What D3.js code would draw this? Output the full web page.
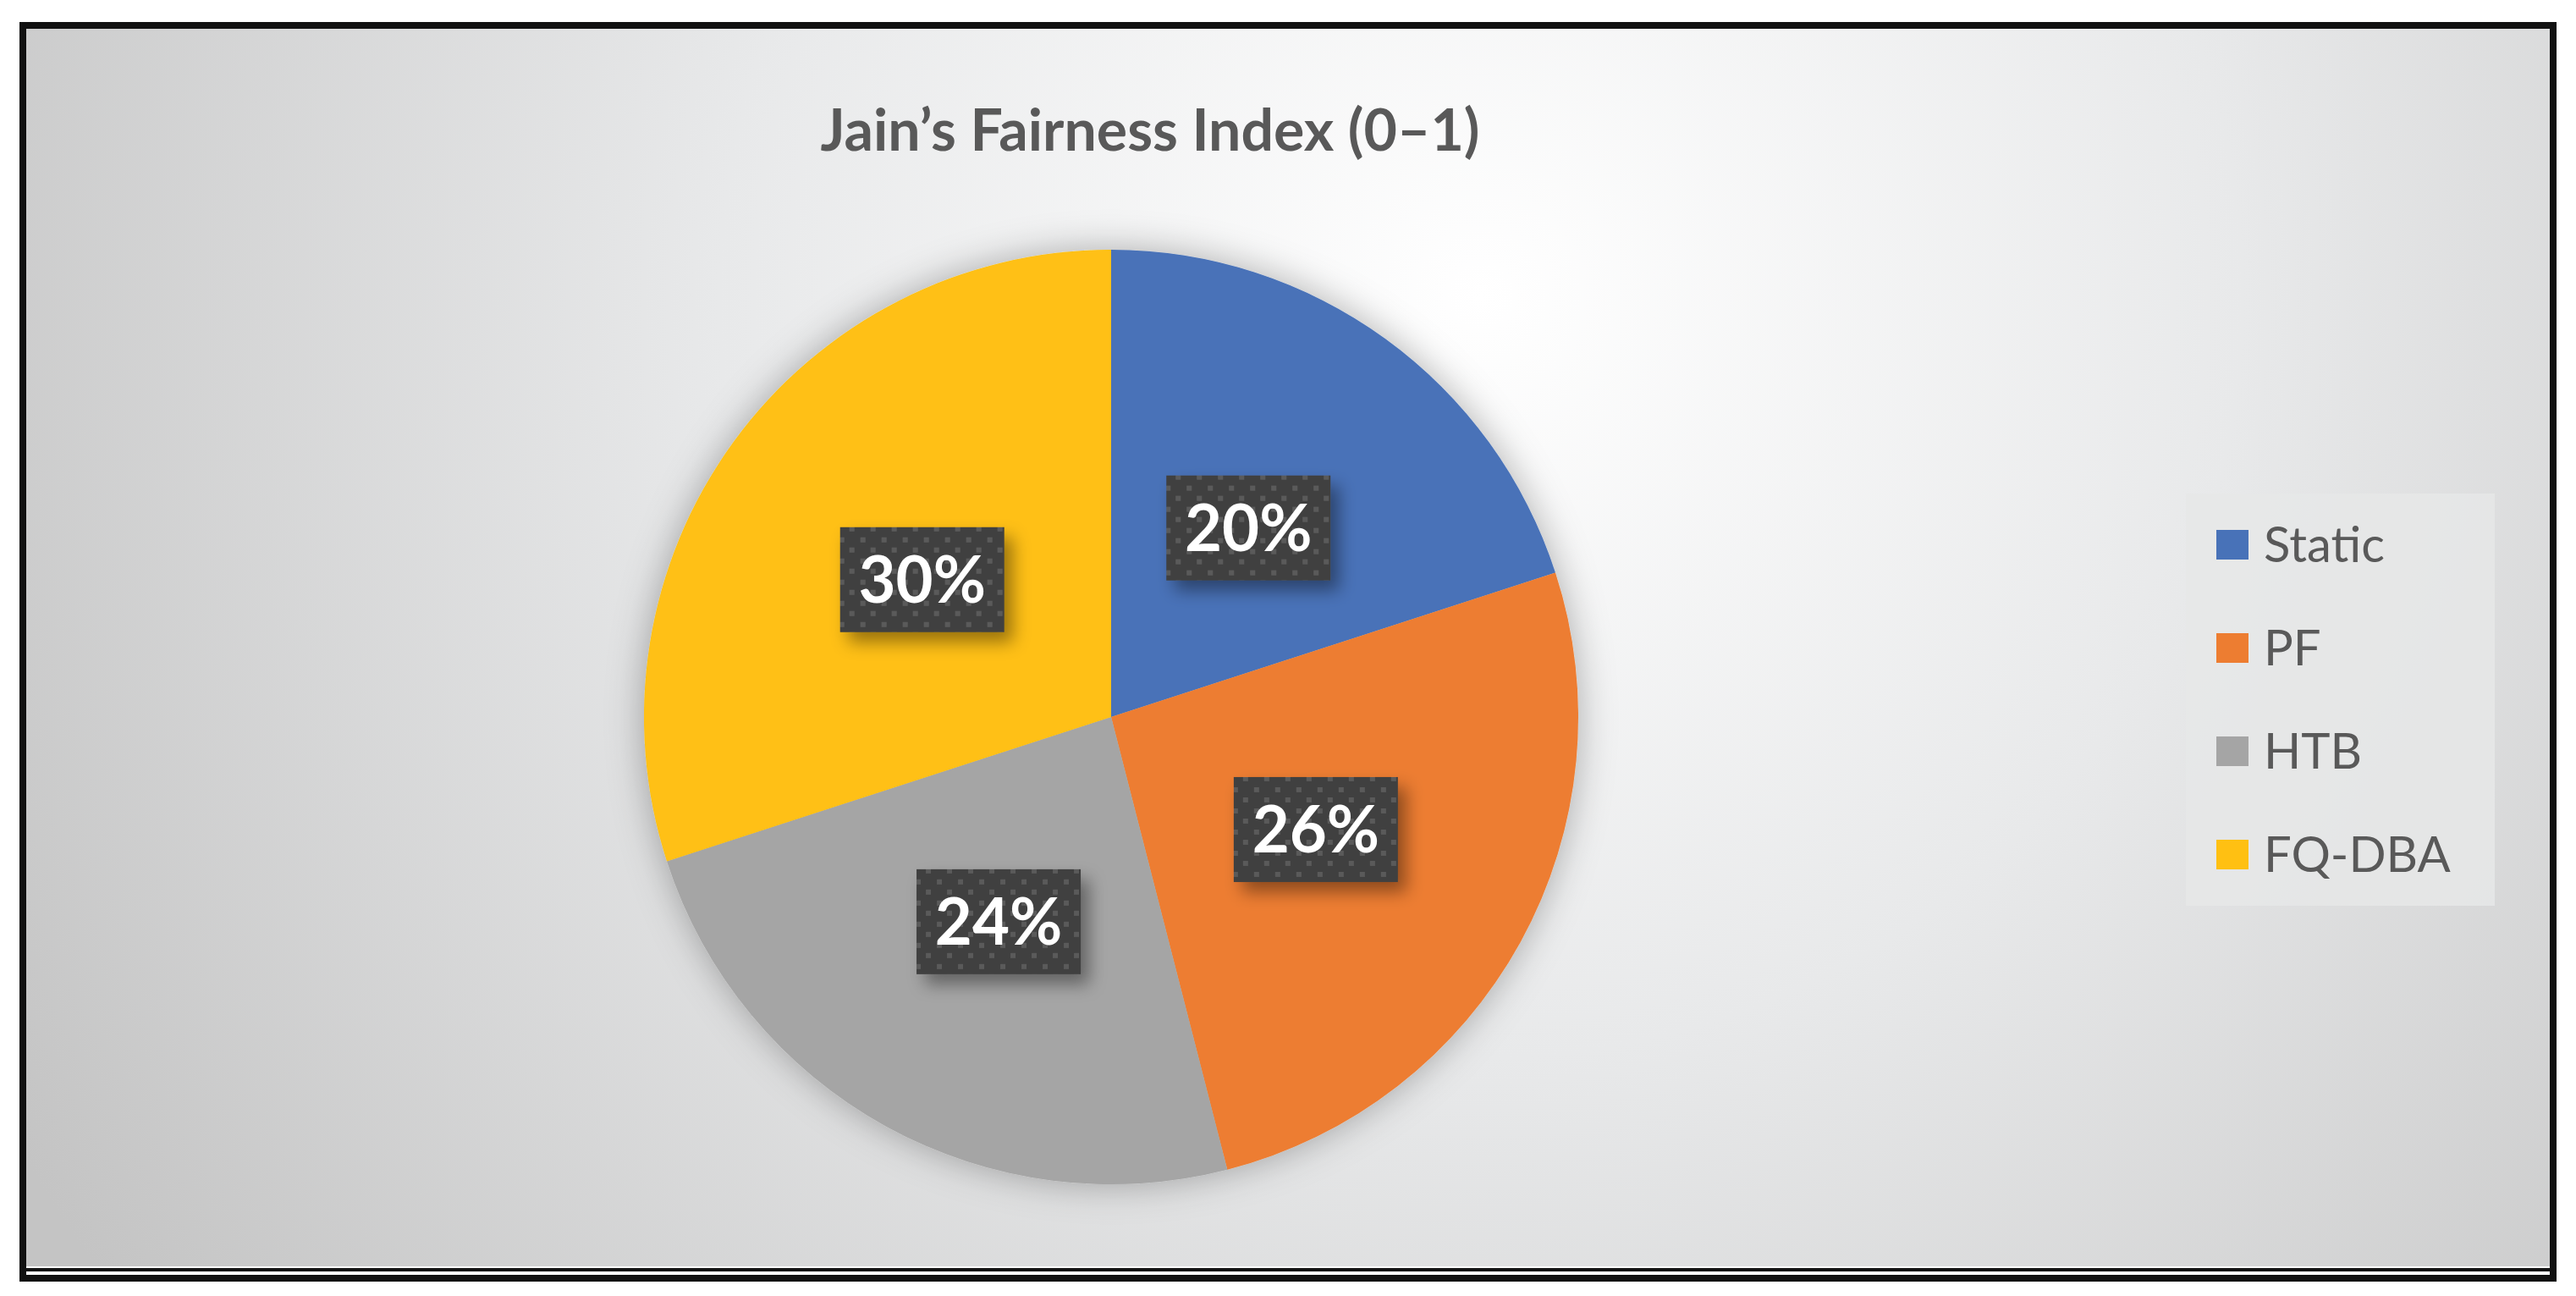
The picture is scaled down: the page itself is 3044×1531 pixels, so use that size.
<!DOCTYPE html>
<html><head><meta charset="utf-8">
<script src="https://cdn.jsdelivr.net/npm/d3@7"></script>
<style>html,body{margin:0;padding:0;background:#fff;}svg{display:block;}</style>
</head><body>
<script>
const categories = ["Static", "PF", "HTB", "FQ-DBA"];
const values = [20, 26, 24, 30];
const colors = ["#4872B8", "#ED7D31", "#A5A5A5", "#FFC012"];
const title = "Jain’s Fairness Index (0–1)";

const W = 3044, H = 1531;
const svg = d3.select("body").append("svg").attr("width", W).attr("height", H);
const defs = svg.append("defs");

const bg = defs.append("radialGradient").attr("id", "bg").attr("gradientUnits", "userSpaceOnUse")
  .attr("cx", 1750).attr("cy", 350).attr("r", 2000);
bg.append("stop").attr("offset", "0").attr("stop-color", "#ffffff");
bg.append("stop").attr("offset", "0.45").attr("stop-color", "#e8e9ea");
bg.append("stop").attr("offset", "1").attr("stop-color", "#c4c4c4");

const pat = defs.append("pattern").attr("id", "dots").attr("patternUnits", "userSpaceOnUse")
  .attr("width", 25).attr("height", 25);
pat.append("rect").attr("width", 25).attr("height", 25).attr("fill", "#404040");
pat.append("rect").attr("x", 2).attr("y", 0).attr("width", 6).attr("height", 6).attr("fill", "#5a5a5a");
pat.append("rect").attr("x", 14).attr("y", 12).attr("width", 6).attr("height", 6).attr("fill", "#5a5a5a");

const sh = defs.append("filter").attr("id", "sh").attr("x", "-30%").attr("y", "-30%").attr("width", "160%").attr("height", "160%");
sh.append("feDropShadow").attr("dx", 10).attr("dy", 12).attr("stdDeviation", 10).attr("flood-color", "#000").attr("flood-opacity", 0.4);
const psh = defs.append("filter").attr("id", "psh").attr("x", "-20%").attr("y", "-20%").attr("width", "140%").attr("height", "140%");
psh.append("feDropShadow").attr("dx", 0).attr("dy", 0).attr("stdDeviation", 22).attr("flood-color", "#000").attr("flood-opacity", 0.3);

// frame
svg.append("rect").attr("x", 27).attr("y", 30).attr("width", 2990).attr("height", 1480)
  .attr("fill", "#fff").attr("stroke", "#111").attr("stroke-width", 8);
svg.append("rect").attr("x", 31).attr("y", 34).attr("width", 2982).attr("height", 1462).attr("fill", "url(#bg)");
svg.append("line").attr("x1", 31).attr("x2", 3013).attr("y1", 1500).attr("y2", 1500).attr("stroke", "#111").attr("stroke-width", 4);

svg.append("text").attr("x", 1359).attr("y", 178).attr("text-anchor", "middle")
  .attr("font-family", "Lato, 'Open Sans', sans-serif").attr("font-weight", "bold").attr("font-size", 68)
  .attr("fill", "#595959").text(title);

const cx = 1313, cy = 847, R = 552;
const pie = d3.pie().sort(null).value(d => d)(values);
const arc = d3.arc().innerRadius(0).outerRadius(R);
const g = svg.append("g").attr("transform", `translate(${cx},${cy})`);
g.append("g").attr("filter", "url(#psh)").selectAll("path").data(pie).join("path")
  .attr("d", arc).attr("fill", (d, i) => colors[i]);

const labelArc = d3.arc().innerRadius(R * 0.5).outerRadius(R * 0.5);
const lab = g.selectAll("g.lab").data(pie).join("g").attr("class", "lab")
  .attr("transform", d => { const c = labelArc.centroid(d); return `translate(${c[0]},${c[1]})`; });
lab.append("rect").attr("x", -97).attr("y", -62).attr("width", 194).attr("height", 124)
  .attr("fill", "url(#dots)").attr("filter", "url(#sh)");
lab.append("text").attr("text-anchor", "middle").attr("y", 27)
  .attr("font-family", "Lato, 'Open Sans', sans-serif").attr("font-weight", "bold").attr("font-size", 76)
  .attr("fill", "#fff").text((d, i) => values[i] + "%");

// legend
const lg = svg.append("g");
lg.append("rect").attr("x", 2583).attr("y", 583).attr("width", 365).attr("height", 487)
  .attr("fill", "#e6e7e7").attr("opacity", 0.85);
const ly = d3.scalePoint().domain(categories).range([643, 1009]);
const items = lg.selectAll("g.it").data(categories).join("g").attr("class", "it")
  .attr("transform", d => `translate(0,${ly(d)})`);
items.append("rect").attr("x", 2619).attr("y", -17).attr("width", 38).attr("height", 35)
  .attr("fill", (d, i) => colors[i]);
items.append("text").attr("x", 2675).attr("y", 21)
  .attr("font-family", "Lato, 'Open Sans', sans-serif").attr("font-size", 58)
  .attr("fill", "#595959").text(d => d);
</script>
</body></html>
